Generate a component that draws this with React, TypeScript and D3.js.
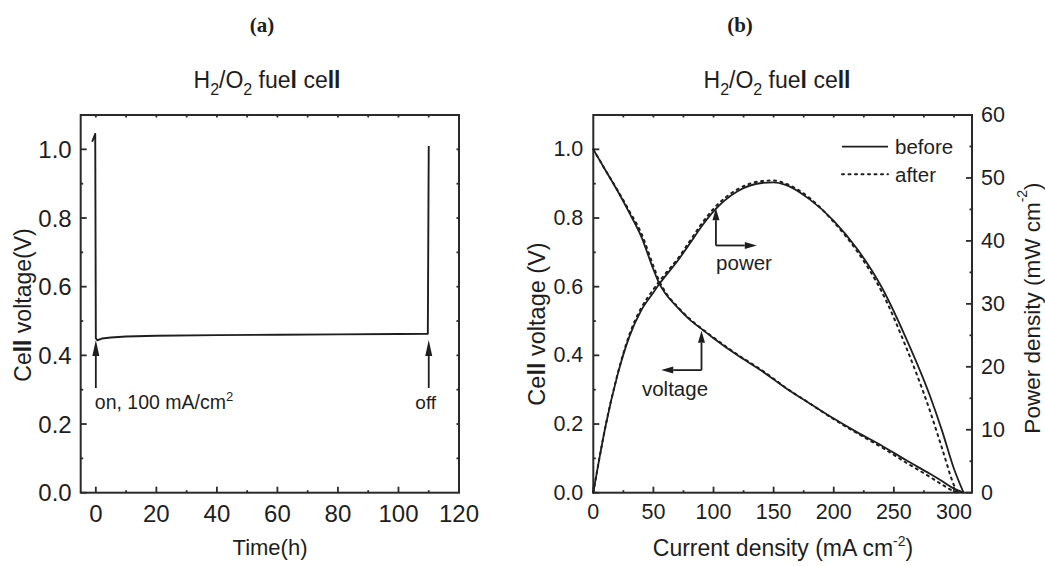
import React from "react";
import * as d3 from "d3";

// ---------- Panel (a): constant-current run ----------
const timeHours = [-1.2, -0.2, 0.0, 0.5, 2, 5, 10, 20, 40, 60, 80, 100, 109.7, 110.0];
const cellVoltageRun = [1.022, 1.045, 0.45, 0.444, 0.449, 0.452, 0.455, 0.457, 0.459, 0.46, 0.461, 0.462, 0.463, 1.01];

const timeTicks = [0, 20, 40, 60, 80, 100, 120];
const voltTicks = [0, 0.2, 0.4, 0.6, 0.8, 1.0];

// ---------- Panel (b): polarization and power curves ----------
const currentBefore = [0, 5, 10, 20, 30, 40, 50, 55, 60, 70, 80, 90, 100, 120, 140, 150, 160, 180, 200, 220, 240, 260, 280, 290, 300, 308];
const voltageBefore = [1.0, 0.97, 0.94, 0.88, 0.815, 0.745, 0.65, 0.608, 0.58, 0.54, 0.505, 0.477, 0.45, 0.4, 0.355, 0.33, 0.305, 0.26, 0.216, 0.175, 0.137, 0.095, 0.055, 0.034, 0.012, 0];
const powerBefore = [0, 5.4, 10.4, 18.6, 24.8, 29.0, 31.8, 33.2, 34.4, 36.8, 39.5, 42.3, 44.7, 47.9, 49.2, 49.3, 48.9, 46.6, 43.2, 38.6, 32.6, 24.6, 15.4, 9.9, 3.8, 0];

const currentAfter = [0, 5, 10, 20, 30, 40, 50, 55, 60, 70, 80, 90, 100, 120, 140, 150, 160, 180, 200, 220, 240, 260, 280, 290, 300, 303];
const voltageAfter = [1.0, 0.97, 0.94, 0.882, 0.82, 0.755, 0.66, 0.615, 0.584, 0.542, 0.507, 0.478, 0.452, 0.402, 0.357, 0.332, 0.306, 0.26, 0.214, 0.172, 0.132, 0.088, 0.046, 0.024, 0.004, 0];
const powerAfter = [0, 5.4, 10.4, 18.7, 25.1, 29.4, 32.3, 33.6, 34.8, 37.1, 39.9, 42.7, 45.1, 48.2, 49.5, 49.6, 49.1, 46.8, 43.0, 38.2, 31.9, 23.2, 13.0, 7.1, 1.2, 0];

const currentTicks = [0, 50, 100, 150, 200, 250, 300];
const powerTicks = [0, 10, 20, 30, 40, 50, 60];

const FONT = '"Liberation Sans", Arial, Helvetica, sans-serif';
const SERIF = '"Liberation Serif", "Times New Roman", serif';
const INK = "#1e1e1e";
const AXIS = "#2a2a2a";

// scales
const xA = d3.scaleLinear().domain([-5, 120]).range([80.7, 459]);
const yA = d3.scaleLinear().domain([0, 1.1]).range([492.7, 115]);
const xB = d3.scaleLinear().domain([0, 315]).range([593.3, 972]);
const yB = d3.scaleLinear().domain([0, 1.1]).range([492.7, 115]);
const yP = d3.scaleLinear().domain([0, 60]).range([492.7, 115]);

const fmt1 = d3.format(".1f");

function range(a: number, b: number, s: number) {
  return d3.range(a, b + s * 0.001, s);
}

type Tick = { x1: number; y1: number; x2: number; y2: number };

function Ticks({ ticks }: { ticks: Tick[] }) {
  return (
    <g stroke={AXIS} strokeWidth={1.8}>
      {ticks.map((t, i) => (
        <line key={i} x1={t.x1} y1={t.y1} x2={t.x2} y2={t.y2} />
      ))}
    </g>
  );
}

function Arrow({ x1, y1, x2, y2, head = 10, w = 3.6 }: { x1: number; y1: number; x2: number; y2: number; head?: number; w?: number }) {
  const a = Math.atan2(y2 - y1, x2 - x1);
  const bx = x2 - head * Math.cos(a);
  const by = y2 - head * Math.sin(a);
  const px = -Math.sin(a) * w;
  const py = Math.cos(a) * w;
  return (
    <g>
      <line x1={x1} y1={y1} x2={bx} y2={by} stroke={INK} strokeWidth={1.8} />
      <polygon points={`${x2},${y2} ${bx + px},${by + py} ${bx - px},${by - py}`} fill={INK} />
    </g>
  );
}

function Title({ cx }: { cx: number }) {
  return (
    <text x={cx} y={88} textAnchor="middle" fontFamily={FONT} fontSize={23} fill={INK}>
      H<tspan fontSize={16} dy={7}>2</tspan>
      <tspan dy={-7}>/O</tspan>
      <tspan fontSize={16} dy={7}>2</tspan>
      <tspan dy={-7}> fue</tspan>
      <tspan fontWeight="bold">l</tspan>
      <tspan> ce</tspan>
      <tspan fontWeight="bold">ll</tspan>
    </text>
  );
}

export default function App() {
  // ---- panel (a) ----
  const [a0, a1] = xA.range();
  const [ab, at] = yA.range();
  const lineA = d3
    .line<number>()
    .x((_, i) => xA(timeHours[i]))
    .y((d) => yA(d))(cellVoltageRun);

  const ticksA: Tick[] = [
    ...voltTicks.map((v) => ({ x1: a0, y1: yA(v), x2: a0 + 6, y2: yA(v) })),
    ...range(0.1, 0.9, 0.2).map((v) => ({ x1: a0, y1: yA(v), x2: a0 + 2.5, y2: yA(v) })),
    ...range(0.1, 1.0, 0.1).map((v) => ({ x1: a1, y1: yA(v), x2: a1 - 2.5, y2: yA(v) })),
    ...timeTicks.slice(0, 6).map((t) => ({ x1: xA(t), y1: ab, x2: xA(t), y2: ab - 6 })),
    ...range(10, 110, 20).map((t) => ({ x1: xA(t), y1: ab, x2: xA(t), y2: ab - 2.5 })),
    ...range(0, 110, 10).map((t) => ({ x1: xA(t), y1: at, x2: xA(t), y2: at + 2.5 })),
  ];

  // ---- panel (b) ----
  const [b0, b1] = xB.range();
  const [bb, bt] = yB.range();
  const smooth = d3.curveMonotoneX;
  const vLine = (xs: number[], ys: number[]) =>
    d3.line<number>().curve(smooth).x((_, i) => xB(xs[i])).y((d) => yB(d))(ys);
  const pLine = (xs: number[], ys: number[]) =>
    d3.line<number>().curve(smooth).x((_, i) => xB(xs[i])).y((d) => yP(d))(ys);

  const ticksB: Tick[] = [
    ...voltTicks.map((v) => ({ x1: b0, y1: yB(v), x2: b0 + 6, y2: yB(v) })),
    ...range(0.1, 0.9, 0.2).map((v) => ({ x1: b0, y1: yB(v), x2: b0 + 2.5, y2: yB(v) })),
    ...powerTicks.slice(0, 6).map((p) => ({ x1: b1, y1: yP(p), x2: b1 - 6, y2: yP(p) })),
    ...range(5, 55, 10).map((p) => ({ x1: b1, y1: yP(p), x2: b1 - 2.5, y2: yP(p) })),
    ...currentTicks.map((c) => ({ x1: xB(c), y1: bb, x2: xB(c), y2: bb - 6 })),
    ...range(25, 275, 50).map((c) => ({ x1: xB(c), y1: bb, x2: xB(c), y2: bb - 2.5 })),
    ...range(25, 300, 25).map((c) => ({ x1: xB(c), y1: bt, x2: xB(c), y2: bt + 2.5 })),
  ];

  const dotted = "2 4.5";

  return (
    <svg
      width={1045}
      height={566}
      viewBox="0 0 1045 566"
      style={{ position: "absolute", left: 0, top: 0, background: "#fff" }}
    >
      <rect width={1045} height={566} fill="#fff" />

      {/* panel captions */}
      <text x={262} y={32} textAnchor="middle" fontFamily={SERIF} fontWeight="bold" fontSize={21} fill={INK}>
        (a)
      </text>
      <text x={740} y={32} textAnchor="middle" fontFamily={SERIF} fontWeight="bold" fontSize={21} fill={INK}>
        (b)
      </text>

      {/* ================= panel (a) ================= */}
      <Title cx={267} />
      <rect x={a0} y={at} width={a1 - a0} height={ab - at} fill="none" stroke={AXIS} strokeWidth={2} />
      <Ticks ticks={ticksA} />
      <g fontFamily={FONT} fontSize={24} fill={INK}>
        {voltTicks.map((v) => (
          <text key={v} x={a0 - 9} y={yA(v)} textAnchor="end" dominantBaseline="central">
            {fmt1(v)}
          </text>
        ))}
        {timeTicks.map((t) => (
          <text key={t} x={xA(t)} y={521.5} textAnchor="middle">
            {t}
          </text>
        ))}
      </g>
      <text x={270} y={555} textAnchor="middle" fontFamily={FONT} fontSize={22} fill={INK}>
        Time(h)
      </text>
      <text transform="translate(23,305) rotate(-90)" textAnchor="middle" dominantBaseline="central" fontFamily={FONT} fontSize={23} fill={INK}>
        Ce<tspan fontWeight="bold">ll</tspan> voltage(V)
      </text>

      <path d={lineA ?? ""} fill="none" stroke={INK} strokeWidth={1.9} strokeLinejoin="round" />

      <Arrow x1={xA(0)} y1={yA(0.305)} x2={xA(0)} y2={yA(0.445)} head={16} w={3.5} />
      <Arrow x1={xA(110)} y1={yA(0.305)} x2={xA(110)} y2={yA(0.445)} head={16} w={3.5} />
      <text x={xA(0) - 1} y={409} fontFamily={FONT} fontSize={19.5} fill={INK}>
        on, 100 mA/cm<tspan fontSize={13} dy={-8}>2</tspan>
      </text>
      <text x={xA(109)} y={409} textAnchor="middle" fontFamily={FONT} fontSize={19} fill={INK}>
        off
      </text>

      {/* ================= panel (b) ================= */}
      <Title cx={777} />
      <rect x={b0} y={bt} width={b1 - b0} height={bb - bt} fill="none" stroke={AXIS} strokeWidth={2} />
      <Ticks ticks={ticksB} />
      <g fontFamily={FONT} fontSize={21.5} fill={INK}>
        {voltTicks.map((v) => (
          <text key={v} x={b0 - 10} y={yB(v)} textAnchor="end" dominantBaseline="central">
            {fmt1(v)}
          </text>
        ))}
        {currentTicks.map((c) => (
          <text key={c} x={xB(c)} y={519} textAnchor="middle">
            {c}
          </text>
        ))}
        {powerTicks.map((p) => (
          <text key={p} x={b1 + 9} y={yP(p)} dominantBaseline="central">
            {p}
          </text>
        ))}
      </g>
      <text x={783} y={556} textAnchor="middle" fontFamily={FONT} fontSize={23} fill={INK}>
        Current density (mA cm<tspan fontSize={14} dy={-10}>-2</tspan>
        <tspan dy={10}>)</tspan>
      </text>
      <text transform="translate(537,324) rotate(-90)" textAnchor="middle" dominantBaseline="central" fontFamily={FONT} fontSize={23.5} fill={INK}>
        Ce<tspan fontWeight="bold">ll</tspan> voltage (V)
      </text>
      <text transform="translate(1032,308) rotate(-90)" textAnchor="middle" dominantBaseline="central" fontFamily={FONT} fontSize={22.5} fill={INK}>
        Power density (mW cm<tspan fontSize={14} dy={-10}>-2</tspan>
        <tspan dy={10}>)</tspan>
      </text>

      {/* curves */}
      <path d={vLine(currentAfter, voltageAfter) ?? ""} fill="none" stroke={INK} strokeWidth={2} strokeDasharray={dotted} strokeLinecap="round" />
      <path d={pLine(currentAfter, powerAfter) ?? ""} fill="none" stroke={INK} strokeWidth={2} strokeDasharray={dotted} strokeLinecap="round" />
      <path d={vLine(currentBefore, voltageBefore) ?? ""} fill="none" stroke={INK} strokeWidth={1.8} />
      <path d={pLine(currentBefore, powerBefore) ?? ""} fill="none" stroke={INK} strokeWidth={1.8} />

      {/* legend */}
      <line x1={842} y1={146.7} x2={888} y2={146.7} stroke={INK} strokeWidth={1.8} />
      <line x1={842} y1={174.3} x2={888} y2={174.3} stroke={INK} strokeWidth={2} strokeDasharray={dotted} strokeLinecap="round" />
      <g fontFamily={FONT} fontSize={20.5} fill={INK}>
        <text x={895} y={146.7} dominantBaseline="central">before</text>
        <text x={895} y={174.3} dominantBaseline="central">after</text>
      </g>

      {/* annotation arrows */}
      <Arrow x1={xB(102)} y1={yB(0.72)} x2={xB(102)} y2={yP(45.2)} head={12} w={3.5} />
      <Arrow x1={xB(102)} y1={yB(0.72)} x2={xB(136)} y2={yB(0.72)} head={12} w={3.5} />
      <text x={744} y={262} textAnchor="middle" dominantBaseline="central" fontFamily={FONT} fontSize={20.5} fill={INK}>
        power
      </text>
      <Arrow x1={xB(90)} y1={yB(0.357)} x2={xB(90)} y2={yB(0.472)} head={12} w={3.5} />
      <Arrow x1={xB(90)} y1={yB(0.357)} x2={xB(56.5)} y2={yB(0.357)} head={12} w={3.5} />
      <text x={675} y={388} textAnchor="middle" dominantBaseline="central" fontFamily={FONT} fontSize={20.5} fill={INK}>
        voltage
      </text>
    </svg>
  );
}
